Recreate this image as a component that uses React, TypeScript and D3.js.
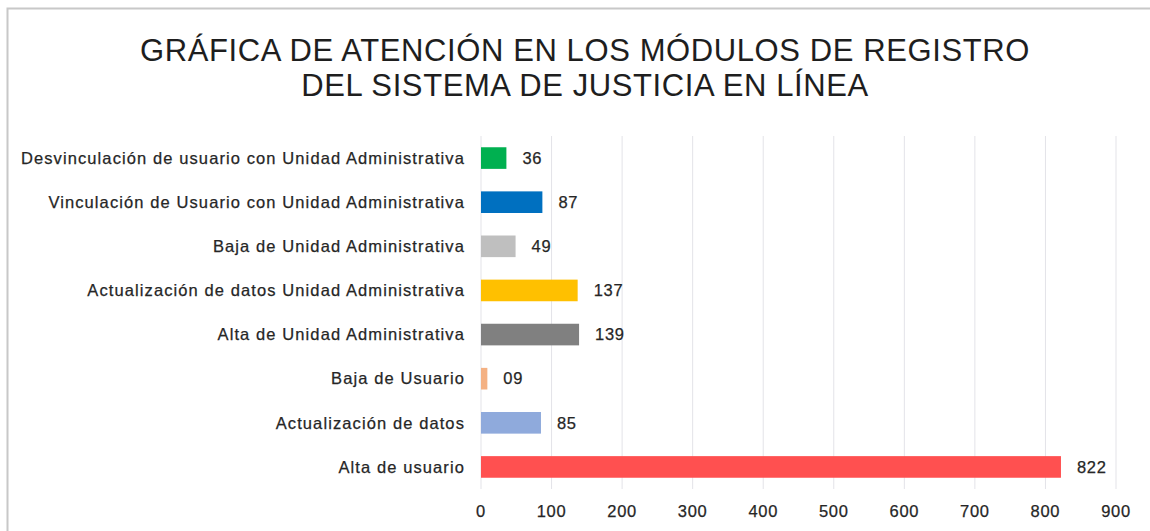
import React, { useRef, useEffect } from 'react';
import * as d3 from 'd3';

// categories, top to bottom
const categories = [
  'Desvinculación de usuario con Unidad Administrativa',
  'Vinculación de Usuario con Unidad Administrativa',
  'Baja de Unidad Administrativa',
  'Actualización de datos Unidad Administrativa',
  'Alta de Unidad Administrativa',
  'Baja de Usuario',
  'Actualización de datos',
  'Alta de usuario',
];
const values = [36, 87, 49, 137, 139, 9, 85, 822];
const valueLabels = ['36', '87', '49', '137', '139', '09', '85', '822'];
const barColors = ['#00b050', '#0070c0', '#bfbfbf', '#ffc000', '#808080', '#f4b183', '#8faadc', '#ff5050'];
const xTicks = [0, 100, 200, 300, 400, 500, 600, 700, 800, 900];
const titleLines = [
  'GRÁFICA DE ATENCIÓN EN LOS MÓDULOS DE REGISTRO',
  'DEL SISTEMA DE JUSTICIA EN LÍNEA',
];

const W = 1150;
const H = 531;
const FONT = '"Liberation Sans", Arial, sans-serif';

const App = () => {
  const svgRef = useRef<SVGSVGElement>(null);

  useEffect(() => {
    const svg = d3.select(svgRef.current);
    svg.selectAll('*').remove();

    const x = d3.scaleLinear().domain([0, 900]).range([481, 1116]);
    const y = d3.scaleBand().domain(categories).range([136, 489]).paddingInner(0.51).paddingOuter(0.255);

    // frame
    svg.append('path')
      .attr('d', `M7.5,${H} V8.5 H${W}`)
      .attr('fill', 'none')
      .attr('stroke', '#c8c8c8')
      .attr('stroke-width', 2);

    // title
    svg.append('text')
      .attr('x', 585)
      .attr('y', 61)
      .attr('text-anchor', 'middle')
      .attr('font-family', FONT)
      .attr('font-size', 31)
      .attr('letter-spacing', 0.6)
      .attr('fill', '#1e1e1e')
      .selectAll('tspan')
      .data(titleLines)
      .join('tspan')
      .attr('x', 585)
      .attr('dy', (_, i) => (i === 0 ? 0 : 35))
      .text(d => d);

    // gridlines
    svg.append('g')
      .selectAll('line')
      .data(xTicks)
      .join('line')
      .attr('x1', d => x(d))
      .attr('x2', d => x(d))
      .attr('y1', 136)
      .attr('y2', 489)
      .attr('stroke', '#e3e3e8')
      .attr('stroke-width', 1);

    const textStyle = (sel: any, spacing: number) =>
      sel
        .attr('font-family', FONT)
        .attr('font-size', 16.5)
        .attr('letter-spacing', spacing)
        .attr('fill', '#262626')
        .attr('stroke', '#262626')
        .attr('stroke-width', 0.25);

    // x axis labels
    svg.append('g')
      .selectAll('text')
      .data(xTicks)
      .join('text')
      .attr('x', d => x(d))
      .attr('y', 517)
      .attr('text-anchor', 'middle')
      .call(textStyle, 0.7)
      .text(d => d);

    // category labels
    svg.append('g')
      .selectAll('text')
      .data(categories)
      .join('text')
      .attr('x', 465)
      .attr('y', d => y(d)! + y.bandwidth() / 2)
      .attr('dy', '0.35em')
      .attr('text-anchor', 'end')
      .call(textStyle, 1.1)
      .text(d => d);

    // bars
    svg.append('g')
      .selectAll('rect')
      .data(values)
      .join('rect')
      .attr('x', x(0))
      .attr('y', (_, i) => y(categories[i])!)
      .attr('width', d => x(d) - x(0))
      .attr('height', y.bandwidth())
      .attr('fill', (_, i) => barColors[i]);

    // value labels
    svg.append('g')
      .selectAll('text')
      .data(values)
      .join('text')
      .attr('x', d => x(d) + 16)
      .attr('y', (_, i) => y(categories[i])! + y.bandwidth() / 2)
      .attr('dy', '0.35em')
      .call(textStyle, 0.7)
      .text((_, i) => valueLabels[i]);
  }, []);

  return (
    <svg
      ref={svgRef}
      width={W}
      height={H}
      style={{ position: 'absolute', left: 0, top: 0, background: '#fff' }}
    />
  );
};

export default App;
